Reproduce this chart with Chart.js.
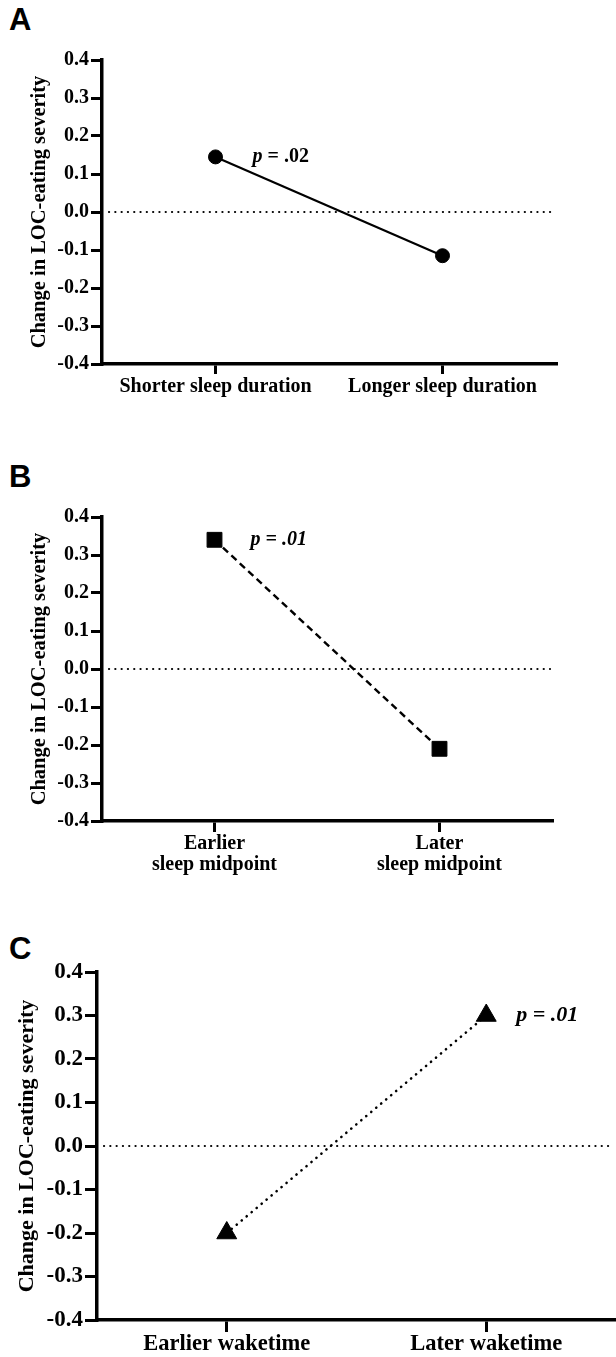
<!DOCTYPE html>
<html>
<head>
<meta charset="utf-8">
<script src="https://cdn.jsdelivr.net/npm/chart.js@4/dist/chart.umd.min.js"></script>
<style>
  body { margin: 0; width: 616px; height: 1357px; background: #fff; position: relative; overflow: hidden; }
  .lbl { position: absolute; left: 9px; font: bold 31px 'Liberation Sans', Arial, sans-serif; line-height: 31px; color: #000; }
  .wrap { position: absolute; left: 0; width: 616px; }
</style>
</head>
<body>
<div class="lbl" style="top:4px">A</div>
<div class="wrap" style="top:40px;height:380px"><canvas id="chartA"></canvas></div>
<div class="lbl" style="top:461px">B</div>
<div class="wrap" style="top:480px;height:420px"><canvas id="chartB"></canvas></div>
<div class="lbl" style="top:933px">C</div>
<div class="wrap" style="top:920px;height:437px"><canvas id="chartC"></canvas></div>
<script>
// ---- data ----
const yTicks = [-0.4, -0.3, -0.2, -0.1, 0, 0.1, 0.2, 0.3, 0.4];
const durationLabels = ['Shorter sleep duration', 'Longer sleep duration'];
const durationValues = [0.145, -0.115];
const midpointLabels = [['Earlier', 'sleep midpoint'], ['Later', 'sleep midpoint']];
const midpointValues = [0.34, -0.21];
const waketimeLabels = ['Earlier waketime', 'Later waketime'];
const waketimeValues = [-0.2, 0.3];
const yTitle = 'Change in LOC-eating severity';

const FONT = "'Liberation Serif', 'Times New Roman', serif";

// dotted reference line at zero
const zeroLine = {
    id: 'zeroLine',
    beforeDatasetsDraw(chart) {
        const {ctx, chartArea: a, scales: {y}} = chart;
        const yy = y.getPixelForValue(0);
        ctx.save();
        ctx.strokeStyle = '#000';
        ctx.lineWidth = 2.2;
        ctx.lineCap = 'round';
        ctx.setLineDash([0.1, 6.2]);
        ctx.beginPath();
        ctx.moveTo(a.left + 7, yy);
        ctx.lineTo(a.right - 2, yy);
        ctx.stroke();
        ctx.restore();
    }
};

// "p = .xx" note next to a point
const pNote = {
    id: 'pNote',
    afterDatasetsDraw(chart, args, o) {
        const {ctx, scales: {x, y}} = chart;
        let px = x.getPixelForValue(o.at) + o.dx;
        const py = y.getPixelForValue(o.y);
        ctx.save();
        ctx.fillStyle = '#000';
        ctx.textBaseline = 'middle';
        o.parts.forEach(([txt, style]) => {
            ctx.font = `${style} bold ${o.size}px ${FONT}`;
            ctx.fillText(txt, px, py);
            px += ctx.measureText(txt).width;
        });
        ctx.restore();
    }
};

function makePanel(id, p) {
    new Chart(document.getElementById(id), {
        type: 'line',
        data: {
            labels: p.labels,
            datasets: [{
                data: p.values,
                borderColor: '#000',
                borderWidth: p.lineWidth,
                borderDash: p.dash,
                borderCapStyle: p.cap || 'butt',
                pointStyle: p.marker,
                pointRadius: p.radius,
                pointBackgroundColor: '#000',
                pointBorderColor: '#000',
                pointBorderWidth: 1,
                clip: false
            }]
        },
        options: {
            responsive: true,
            maintainAspectRatio: false,
            animation: false,
            events: [],
            layout: { autoPadding: false, padding: { top: p.padTop, right: p.padRight, left: 0, bottom: 0 } },
            plugins: {
                legend: { display: false },
                tooltip: { enabled: false },
                pNote: p.note
            },
            scales: {
                x: {
                    type: 'category',
                    offset: true,
                    grid: { offset: false, drawOnChartArea: false, color: '#000', lineWidth: 3, tickLength: p.xTick },
                    border: { color: '#000', width: 3.5 },
                    ticks: { color: '#000', padding: p.xPad, maxRotation: 0, autoSkip: false,
                             font: { family: FONT, weight: 'bold', size: p.xFont, lineHeight: 1.05 } },
                    afterFit: s => { s.height = p.xHeight; }
                },
                y: {
                    min: -0.4,
                    max: 0.4,
                    afterBuildTicks: s => { s.ticks = yTicks.map(v => ({ value: v })); },
                    grid: { drawOnChartArea: false, color: '#000', lineWidth: 3, tickLength: p.yTick },
                    border: { color: '#000', width: 3.5 },
                    ticks: { color: '#000', padding: 2,
                             font: { family: FONT, weight: 'bold', size: p.yFont },
                             callback: v => Math.abs(v) < 1e-9 ? '0.0' : v.toFixed(1) },
                    title: { display: true, text: yTitle, color: '#000',
                             padding: { top: p.titlePad, bottom: 0 },
                             font: { family: FONT, weight: 'bold', size: p.titleFont } },
                    afterFit: s => { s.width = p.yWidth; }
                }
            }
        },
        plugins: [zeroLine, pNote]
    });
}

makePanel('chartA', {
    labels: durationLabels, values: durationValues,
    lineWidth: 2.2, dash: [], marker: 'circle', radius: 7,
    padTop: 20, padRight: 60, yWidth: 102, xHeight: 56,
    xTick: 10, xPad: 2, xFont: 20, yTick: 11, yFont: 20,
    titleFont: 20.5, titlePad: 27,
    note: { at: 0, dx: 37, y: 0.145, size: 20, parts: [['p', 'italic'], [' = .02', 'normal']] }
});

makePanel('chartB', {
    labels: midpointLabels, values: midpointValues,
    lineWidth: 2.4, dash: [7, 4.5], marker: 'rect', radius: 10.5,
    padTop: 37, padRight: 64, yWidth: 102, xHeight: 79,
    xTick: 11, xPad: 1, xFont: 20, yTick: 11, yFont: 20,
    titleFont: 20.5, titlePad: 27,
    note: { at: 0, dx: 36, y: 0.34, size: 20, parts: [['p = .01', 'italic']] }
});

makePanel('chartC', {
    labels: waketimeLabels, values: waketimeValues,
    lineWidth: 2.6, dash: [0.1, 6.4], cap: 'round', marker: 'triangle', radius: 11.5,
    padTop: 52, padRight: 0, yWidth: 97, xHeight: 37,
    xTick: 12, xPad: 0, xFont: 22.5, yTick: 12, yFont: 23,
    titleFont: 22, titlePad: 14,
    note: { at: 1, dx: 30, y: 0.3, size: 22, parts: [['p = .01', 'italic']] }
});
</script>
</body>
</html>
